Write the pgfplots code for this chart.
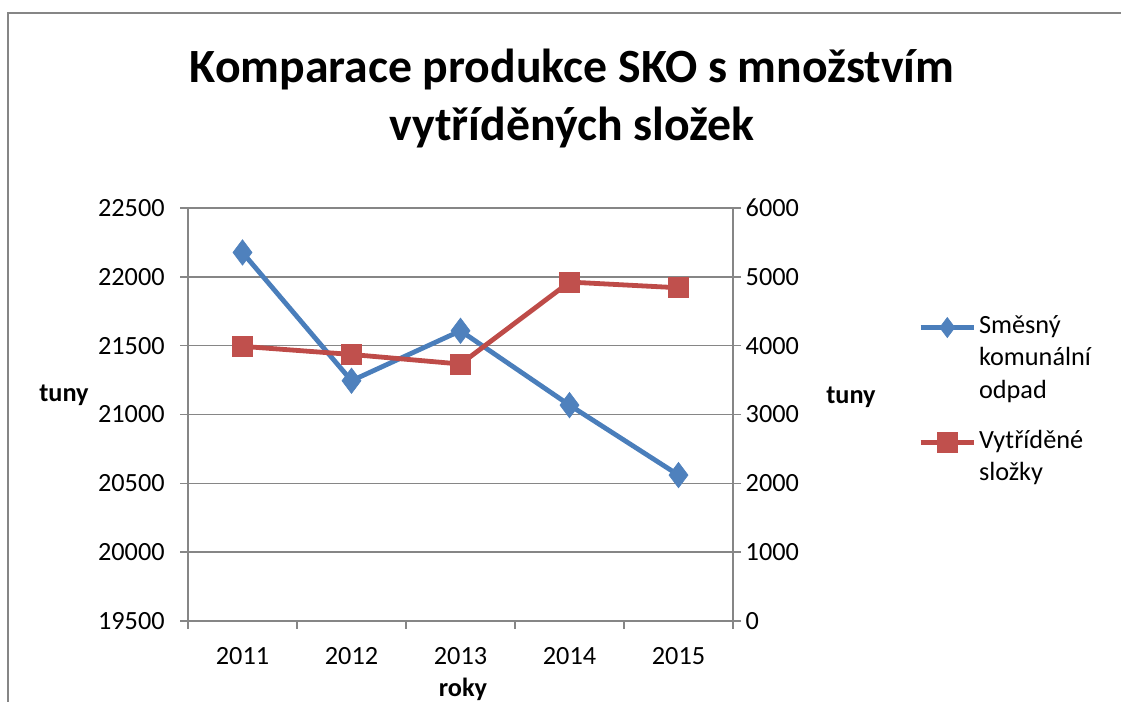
\documentclass[border=0pt]{standalone}
\usepackage{pgfplots}
\pgfplotsset{compat=1.18}
\usepackage{fontspec}
\setmainfont{Carlito}
\definecolor{sblue}{HTML}{4A7EBB}
\definecolor{sbluef}{HTML}{4F81BD}
\definecolor{sred}{HTML}{BE4B48}
\definecolor{sredf}{HTML}{C0504D}
\definecolor{gridg}{HTML}{868686}
\pgfplotstableread{
x y
0 22177
1 21245
2 21608
3 21068
4 20560
}\sko
\pgfplotstableread{
x y
0 3990
1 3872
2 3733
3 4924
4 4841
}\vyt
\newcommand{\tfont}{\fontsize{19.7}{24.4}\selectfont}
\begin{document}
\begin{tikzpicture}[x=0.75pt,y=0.75pt]
\useasboundingbox (0,0) rectangle (1121,702);
\draw[gridg, line width=1.5pt] (8,-10) -- (8,689) -- (1130,689);
\node[font=\fontsize{35.8}{40}\selectfont\bfseries] at (572,632) {Komparace produkce SKO s množstvím};
\node[font=\fontsize{35.8}{40}\selectfont\bfseries] at (572,574) {vytříděných složek};
\pgfplotsset{
  every axis/.append style={
    scale only axis, width=408.75pt, height=309.75pt,
    xmin=-0.5, xmax=4.5,
    tick align=outside, major tick length=6pt,
    tick label style={font=\tfont},
    axis line style={gridg, line width=1.2pt},
    every tick/.style={gridg, line width=1.2pt},
    /pgf/number format/assume math mode=true,
    /pgf/number format/1000 sep={},
    scaled y ticks=false,
  }
}
\begin{axis}[
  at={(141pt,60.75pt)}, anchor=south west,
  axis x line*=bottom, axis y line*=left,
  ymin=19500, ymax=22500, ytick={19500,20000,...,22500},
  ymajorgrids, grid style={gridg, line width=1.2pt},
  xtick={0,1,2,3,4}, xticklabels={2011,2012,2013,2014,2015},
  major x tick style={draw=none},
  minor xtick={-0.5,0.5,1.5,2.5,3.5,4.5},
  minor x tick style={gridg, line width=1.2pt},
  minor tick length=6pt,
  xticklabel style={yshift=-10pt},
  yticklabel style={xshift=-8pt},
  clip=false,
]
\addplot[sblue, line width=3.6pt, mark=diamond*, mark size=9.5pt, mark options={fill=sbluef, draw=sbluef, line width=0.5pt}] table[x=x,y=y] {\sko};
\end{axis}
\begin{axis}[
  at={(141pt,60.75pt)}, anchor=south west,
  axis x line=none, axis y line*=right,
  ymin=0, ymax=6000, ytick={0,1000,...,6000},
  xtick=\empty,
  clip=false,
  legend style={at={(1.3394,0.7506)}, anchor=north west, draw=none, fill=none,
    font=\tfont, row sep=0pt, column sep=2pt, inner sep=0pt,
    nodes={inner sep=0pt, text height=16.5pt, text depth=7.9pt}},
  legend cell align=left,
  legend image code/.code={
    \draw[#1, mark repeat=2, mark phase=2] plot coordinates {(0pt,0pt) (20pt,0pt) (40pt,0pt)};
  },
]
\addlegendimage{sblue, line width=3.6pt, mark=diamond*, mark size=7.5pt, mark options={fill=sbluef, draw=sbluef, line width=0.5pt}}
\addlegendentry{Směsný}
\addlegendimage{empty legend}
\addlegendentry{komunální}
\addlegendimage{empty legend}
\addlegendentry[text depth=21pt]{odpad}
\addplot[sred, line width=3.6pt, mark=square*, mark size=7.5pt, mark options={fill=sredf, draw=sredf, line width=0.5pt}] table[x=x,y=y] {\vyt};
\addlegendentry{Vytříděné}
\addlegendimage{empty legend}
\addlegendentry{složky}
\end{axis}
\node[font=\tfont\bfseries] at (64,307) {tuny};
\node[font=\tfont\bfseries] at (851,305) {tuny};
\node[font=\tfont\bfseries, anchor=base] at (463,5) {roky};
\end{tikzpicture}
\end{document}
